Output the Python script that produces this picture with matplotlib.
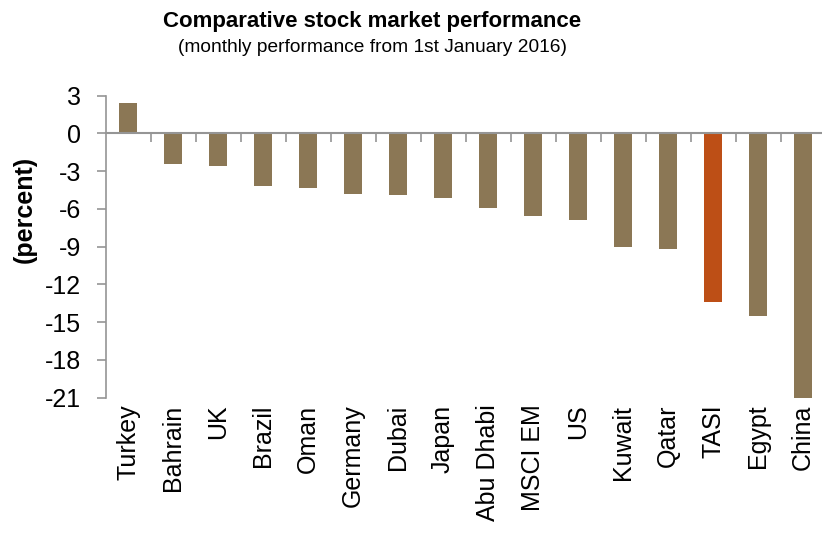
import numpy as np
import matplotlib
matplotlib.use('Agg')
import matplotlib.pyplot as plt
import matplotlib.transforms as mtransforms

plt.rcParams['font.family'] = ['Liberation Sans', 'DejaVu Sans']

# ── 数据 ────────────────────────────────────────────────
markets = ['Turkey', 'Bahrain', 'UK', 'Brazil', 'Oman', 'Germany', 'Dubai', 'Japan',
           'Abu Dhabi', 'MSCI EM', 'US', 'Kuwait', 'Qatar', 'TASI', 'Egypt', 'China']
performance = [2.4, -2.4, -2.6, -4.2, -4.3, -4.8, -4.9, -5.1,
               -5.95, -6.6, -6.9, -9.0, -9.2, -13.4, -14.5, -21.2]
highlight = 'TASI'
yticks = [3, 0, -3, -6, -9, -12, -15, -18, -21]

BAR_COLOR = '#8B7755'
HL_COLOR = '#BD4F16'
AXIS_GRAY = '#959595'

fig = plt.figure(figsize=(8.22, 5.37), dpi=100)
ax = fig.add_axes([105.5 / 822, 1 - 397.7 / 537, 720 / 822, (397.7 - 95.7) / 537])

x = np.arange(len(markets))
colors = [HL_COLOR if m == highlight else BAR_COLOR for m in markets]
ax.bar(x, performance, width=0.4, color=colors, edgecolor='none', zorder=2)

ax.set_xlim(-0.5, len(markets) - 0.5)
ax.set_ylim(-21, 3)

# 坐标轴样式
for side in ['top', 'right']:
    ax.spines[side].set_visible(False)
ax.spines['left'].set_color(AXIS_GRAY)
ax.spines['left'].set_linewidth(1.2)
ax.spines['bottom'].set_position(('data', 0))
ax.spines['bottom'].set_color(AXIS_GRAY)
ax.spines['bottom'].set_linewidth(1.5)
ax.spines['bottom'].set_zorder(3)

ax.set_yticks(yticks)
ax.set_yticklabels([str(v) for v in yticks])
ax.tick_params(axis='y', direction='out', length=6.3, width=1.2, color=AXIS_GRAY,
               labelsize=18, pad=11)

ax.set_xticks(x)
ax.set_xticklabels([])
ax.set_xticks(x[:-1] + 0.5, minor=True)
ax.tick_params(axis='x', which='major', length=0)
ax.tick_params(axis='x', which='minor', direction='out', length=6.5, width=1.2,
               color=AXIS_GRAY)

# 类别标签放在坐标区底部
trans = mtransforms.blended_transform_factory(ax.transData, ax.transAxes)
for xi, name in zip(x, markets):
    ax.text(xi, -0.023, name, transform=trans, rotation=90, ha='center', va='top',
            fontsize=18, color='black')

fig.text(0.030, 1 - 209 / 537, '(percent)', rotation=90, ha='center', va='center',
         fontsize=18, fontweight='bold')

fig.text(372 / 822, 1 - 22 / 537, 'Comparative stock market performance',
         ha='center', va='center', fontsize=16, fontweight='bold')
fig.text(372 / 822, 1 - 48 / 537, '(monthly performance from 1st January 2016)',
         ha='center', va='center', fontsize=13.8)

fig.savefig('out.png', dpi=100)
